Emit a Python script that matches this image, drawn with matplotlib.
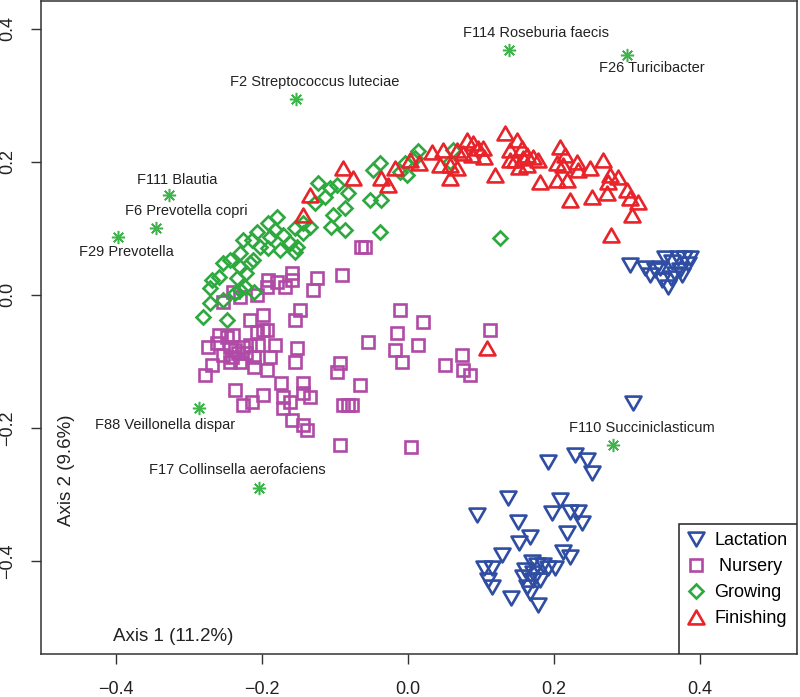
import matplotlib
matplotlib.use("Agg")
import matplotlib.pyplot as plt
from matplotlib.path import Path
from matplotlib.markers import MarkerStyle
from matplotlib.lines import Line2D
from matplotlib.patches import Rectangle

plt.rcParams['font.family'] = ['Liberation Sans', 'DejaVu Sans']

# ---------------- data ----------------
lact_x = [0.304, 0.325, 0.338, 0.348, 0.356, 0.352, 0.362, 0.370, 0.379, 0.386, 0.373, 0.384, 0.366, 0.345, 0.332, 0.360, 0.375,
          0.308, 0.192, 0.229, 0.245, 0.252, 0.137, 0.095, 0.208, 0.197, 0.222, 0.233, 0.238, 0.151, 0.167, 0.153, 0.218, 0.212,
          0.222, 0.129, 0.105, 0.115, 0.110, 0.116, 0.142, 0.160, 0.158, 0.170, 0.177, 0.185, 0.192, 0.201, 0.171, 0.181, 0.167,
          0.178, 0.171, 0.163]
lact_y = [0.045, 0.041, 0.038, 0.023, 0.012, 0.056, 0.050, 0.056, 0.056, 0.056, 0.038, 0.047, 0.032, 0.041, 0.030, 0.025, 0.030,
          -0.162, -0.251, -0.241, -0.248, -0.268, -0.305, -0.331, -0.308, -0.328, -0.326, -0.326, -0.343, -0.341, -0.364, -0.373,
          -0.358, -0.386, -0.394, -0.391, -0.411, -0.411, -0.429, -0.439, -0.456, -0.414, -0.424, -0.402, -0.406, -0.406, -0.411,
          -0.411, -0.429, -0.429, -0.448, -0.466, -0.418, -0.439]

nurs_x = [-0.064, -0.058, -0.090, -0.125, -0.130, -0.159, -0.158, -0.168, -0.179, -0.192, -0.193, -0.207, -0.230, -0.240, -0.253,
          -0.148, -0.155, -0.199, -0.216, -0.199, -0.207, -0.193, -0.248, -0.258, -0.262, -0.240, -0.274, -0.244, -0.237, -0.226,
          -0.216, -0.205, -0.182, -0.253, -0.241, -0.233, -0.221, -0.210, -0.189, -0.152, -0.155, -0.244, -0.230, -0.210, -0.193,
          -0.268, -0.278, -0.237, -0.226, -0.214, -0.199, -0.173, -0.171, -0.162, -0.144, -0.144, -0.134, -0.171, -0.159, -0.144,
          -0.138, -0.066, -0.093, -0.097, -0.089, -0.082, -0.077, -0.055, -0.011, 0.021, -0.015, -0.018, -0.008, 0.014, 0.051,
          0.074, 0.075, 0.085, -0.093, 0.005, 0.112]
nurs_y = [0.072, 0.072, 0.030, 0.026, 0.008, 0.033, 0.023, 0.012, 0.020, 0.023, 0.012, 0.000, -0.003, 0.005, -0.011,
          -0.023, -0.038, -0.030, -0.038, -0.053, -0.056, -0.053, -0.063, -0.060, -0.072, -0.060, -0.078, -0.078, -0.083, -0.078,
          -0.075, -0.075, -0.075, -0.090, -0.093, -0.087, -0.087, -0.093, -0.093, -0.080, -0.101, -0.101, -0.101, -0.108, -0.113,
          -0.105, -0.120, -0.143, -0.165, -0.161, -0.150, -0.132, -0.153, -0.161, -0.132, -0.147, -0.153, -0.170, -0.188, -0.195,
          -0.203, -0.135, -0.102, -0.116, -0.165, -0.165, -0.165, -0.071, -0.023, -0.041, -0.057, -0.083, -0.101, -0.075, -0.105,
          -0.090, -0.113, -0.120, -0.226, -0.229, -0.053]

grow_x = [0.014, 0.010, -0.001, -0.011, -0.004, 0.062, 0.058, -0.038, -0.048, -0.052, -0.036, -0.038, 0.126, -0.082, -0.086,
          -0.097, -0.107, -0.123, -0.114, -0.127, -0.103, -0.086, -0.105, -0.144, -0.155, -0.179, -0.182, -0.192, -0.207, -0.214,
          -0.226, -0.203, -0.189, -0.171, -0.162, -0.155, -0.175, -0.192, -0.230, -0.244, -0.253, -0.230, -0.216, -0.258, -0.268,
          -0.271, -0.234, -0.223, -0.210, -0.237, -0.253, -0.271, -0.281, -0.248, -0.134, -0.144, -0.152, -0.212, -0.221, -0.230]
grow_y = [0.217, 0.206, 0.180, 0.185, 0.198, 0.218, 0.200, 0.198, 0.188, 0.143, 0.143, 0.095, 0.086, 0.153, 0.131,
          0.165, 0.161, 0.168, 0.147, 0.138, 0.120, 0.098, 0.102, 0.108, 0.101, 0.117, 0.098, 0.108, 0.095, 0.083,
          0.083, 0.072, 0.087, 0.090, 0.078, 0.065, 0.068, 0.071, 0.063, 0.053, 0.048, 0.042, 0.048, 0.027, 0.023,
          0.011, 0.026, 0.012, 0.005, 0.003, -0.008, -0.012, -0.033, -0.038, 0.102, 0.093, 0.072, 0.053, 0.033, 0.008]

fin_x = [-0.134, -0.144, -0.089, -0.075, -0.036, -0.027, -0.018, 0.003, 0.016, 0.033, 0.048, 0.044, 0.058, 0.068, 0.058,
         0.067, 0.075, 0.081, 0.089, 0.096, 0.088, 0.103, 0.105, 0.119, 0.133, 0.140, 0.140, 0.149, 0.156, 0.147, 0.158,
         0.164, 0.171, 0.178, 0.164, 0.153, 0.181, 0.208, 0.215, 0.204, 0.212, 0.232, 0.233, 0.204, 0.218, 0.249, 0.222,
         0.267, 0.277, 0.274, 0.288, 0.253, 0.273, 0.300, 0.304, 0.315, 0.307, 0.279, 0.108]
fin_y = [0.150, 0.120, 0.191, 0.176, 0.176, 0.165, 0.191, 0.203, 0.198, 0.215, 0.218, 0.195, 0.195, 0.191, 0.176,
         0.218, 0.214, 0.233, 0.229, 0.221, 0.211, 0.221, 0.208, 0.180, 0.244, 0.218, 0.203, 0.233, 0.221, 0.203, 0.206,
         0.211, 0.208, 0.203, 0.195, 0.192, 0.170, 0.223, 0.211, 0.198, 0.195, 0.200, 0.188, 0.173, 0.173, 0.191, 0.143,
         0.203, 0.180, 0.170, 0.177, 0.147, 0.153, 0.158, 0.146, 0.140, 0.120, 0.090, -0.080]

sp_names = ["F114 Roseburia faecis", "F26 Turicibacter", "F2 Streptococcus luteciae", "F111 Blautia",
            "F6 Prevotella copri", "F29 Prevotella", "F88 Veillonella dispar", "F17 Collinsella aerofaciens",
            "F110 Succiniclasticum"]
sp_x = [0.138, 0.300, -0.153, -0.327, -0.345, -0.397, -0.286, -0.204, 0.281]
sp_y = [0.368, 0.361, 0.295, 0.150, 0.101, 0.087, -0.170, -0.290, -0.226]
lab_x = [0.175, 0.334, -0.127, -0.316, -0.303, -0.385, -0.332, -0.233, 0.321]
lab_y = [0.394, 0.341, 0.320, 0.173, 0.126, 0.065, -0.195, -0.263, -0.200]

groups = ["Lactation", "Nursery", "Growing", "Finishing"]
colors = ["#2f4ea3", "#b04aa6", "#2ea83f", "#e8232a"]
xticks = [-0.4, -0.2, 0.0, 0.2, 0.4]
yticks = [-0.4, -0.2, 0.0, 0.2, 0.4]

# ---------------- markers ----------------
h = 0.866
up_path = Path([(-1, -h), (1, -h), (0, h), (-1, -h)],
               [Path.MOVETO, Path.LINETO, Path.LINETO, Path.CLOSEPOLY])
dn_path = Path([(-1, h), (1, h), (0, -h), (-1, h)],
               [Path.MOVETO, Path.LINETO, Path.LINETO, Path.CLOSEPOLY])
up_m = MarkerStyle(up_path, joinstyle='miter')
dn_m = MarkerStyle(dn_path, joinstyle='miter')
sq_m = MarkerStyle('s', joinstyle='miter')
di_m = MarkerStyle('D', joinstyle='miter')

fig = plt.figure(figsize=(8.0, 6.97), dpi=100)
ax = fig.add_axes([0.051, 0.0617, 0.945, 0.937])

mew = 1.9
ax.plot(lact_x, lact_y, ls='none', marker=dn_m, ms=11.5, mfc='none', mec=colors[0], mew=mew)
ax.plot(nurs_x, nurs_y, ls='none', marker=sq_m, ms=8, mfc='none', mec=colors[1], mew=mew)
ax.plot(grow_x, grow_y, ls='none', marker=di_m, ms=7.4, mfc='none', mec=colors[2], mew=mew)
ax.plot(fin_x, fin_y, ls='none', marker=up_m, ms=11.5, mfc='none', mec=colors[3], mew=mew)

ax.plot(sp_x, sp_y, ls='none', marker=(8, 2, 0), ms=9.5, mec="#3db54a", mew=1.1)
for name, lx, ly in zip(sp_names, lab_x, lab_y):
    ax.text(lx, ly, name, ha='center', va='center', fontsize=10.5, color='#222222')

ax.text(-0.404, -0.514, "Axis 1 (11.2%)", ha='left', va='center', fontsize=13.5, color='#222222')
ax.text(-0.468, -0.263, "Axis 2 (9.6%)", ha='center', va='center', rotation=90, fontsize=13.5, color='#222222')

ax.set_xlim(-0.5027, 0.5329)
ax.set_ylim(-0.540, 0.442)
ax.set_xticks(xticks)
ax.set_yticks(yticks)
ax.set_xticklabels([f"{v:.1f}".replace("-", "\u2212") for v in xticks])
ax.set_yticklabels([f"{v:.1f}".replace("-", "\u2212") for v in yticks], rotation=90, va='center')
ax.tick_params(axis='both', direction='out', length=7.5, width=1.0, color='#333333',
               labelsize=13, labelcolor='#222222')
ax.tick_params(axis='x', pad=12)
ax.tick_params(axis='y', pad=10)
for s in ax.spines.values():
    s.set_linewidth(1.1)
    s.set_color('#333333')

# legend: frame drawn separately to match the reference box
box_x0, box_h = 0.844, 0.199
ax.add_patch(Rectangle((box_x0, 0.0), 1.0 - box_x0, box_h, transform=ax.transAxes,
                       fill=True, facecolor='white', edgecolor='#222222', lw=1.1, zorder=5))
handles = [
    Line2D([], [], ls='none', marker=dn_m, ms=11.5, mfc='none', mec=colors[0], mew=mew),
    Line2D([], [], ls='none', marker=sq_m, ms=8, mfc='none', mec=colors[1], mew=mew),
    Line2D([], [], ls='none', marker=di_m, ms=7.4, mfc='none', mec=colors[2], mew=mew),
    Line2D([], [], ls='none', marker=up_m, ms=11.5, mfc='none', mec=colors[3], mew=mew),
]
labels = ["Lactation", " Nursery", "Growing", "Finishing"]
leg = ax.legend(handles, labels, loc='upper left', bbox_to_anchor=(box_x0, box_h),
                borderaxespad=0, frameon=False, fontsize=13, handlelength=1.0, handletextpad=0.5,
                labelspacing=0.5, borderpad=0.45)
leg.set_zorder(6)

fig.savefig("out.png", dpi=100)
